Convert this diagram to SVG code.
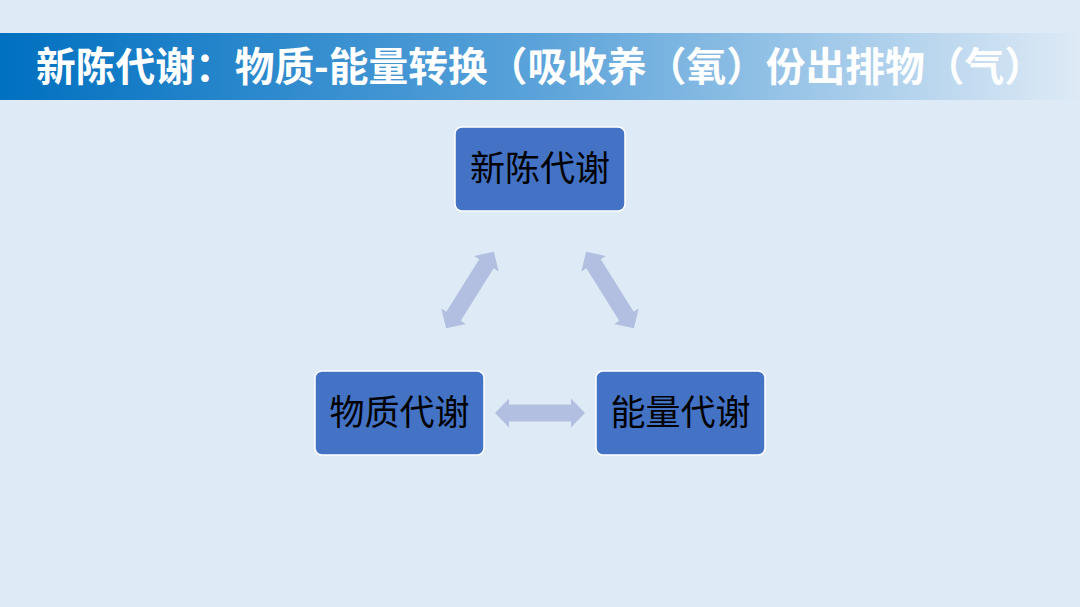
<svg xmlns="http://www.w3.org/2000/svg" width="1080" height="607" viewBox="0 0 1080 607">
<defs>
<linearGradient id="band" x1="0" y1="0" x2="1" y2="0">
<stop offset="0" stop-color="#0070C0"/>
<stop offset="0.5" stop-color="#5BA3DA"/>
<stop offset="1" stop-color="#DEEAF6"/>
</linearGradient>
<path id="darr" d="M-45,0 L-31,-14.5 L-31,-8.5 L31,-8.5 L31,-14.5 L45,0 L31,14.5 L31,8.5 L-31,8.5 L-31,14.5 Z"/>
</defs>
<style>
.node rect{fill:#4472C4;stroke:#FFFFFF;stroke-width:1.5}
.node text{font-family:"Noto Sans CJK SC","Noto Sans",sans-serif;font-size:35px;fill:#000000;text-anchor:middle}
.conn use{fill:#B2BFE0}
.title{font-family:"Noto Sans CJK SC","Noto Sans",sans-serif;font-size:40px;font-weight:bold;fill:#FFFFFF}
</style>
<rect x="0" y="0" width="1080" height="607" fill="#DEEAF6"/>
<rect x="0" y="33" width="1080" height="67" fill="url(#band)"/>
<text class="title" x="36" y="81" textLength="1008" lengthAdjust="spacingAndGlyphs">新陈代谢：物质-能量转换（吸收养（氧）份出排物（气）</text>
<g id="connectors" class="conn">
<use href="#darr" transform="translate(470,290) rotate(-58)"/>
<use href="#darr" transform="translate(610,290) rotate(58)"/>
<use href="#darr" transform="translate(540,413)"/>
</g>
<g id="node-xinchen" class="node">
<rect x="455" y="127" width="170" height="84" rx="7"/>
<text x="540" y="181">新陈代谢</text>
</g>
<g id="node-wuzhi" class="node">
<rect x="315" y="371" width="169" height="84" rx="7"/>
<text x="399.5" y="425">物质代谢</text>
</g>
<g id="node-nengliang" class="node">
<rect x="596" y="371" width="169" height="84" rx="7"/>
<text x="680.5" y="425">能量代谢</text>
</g>
</svg>
